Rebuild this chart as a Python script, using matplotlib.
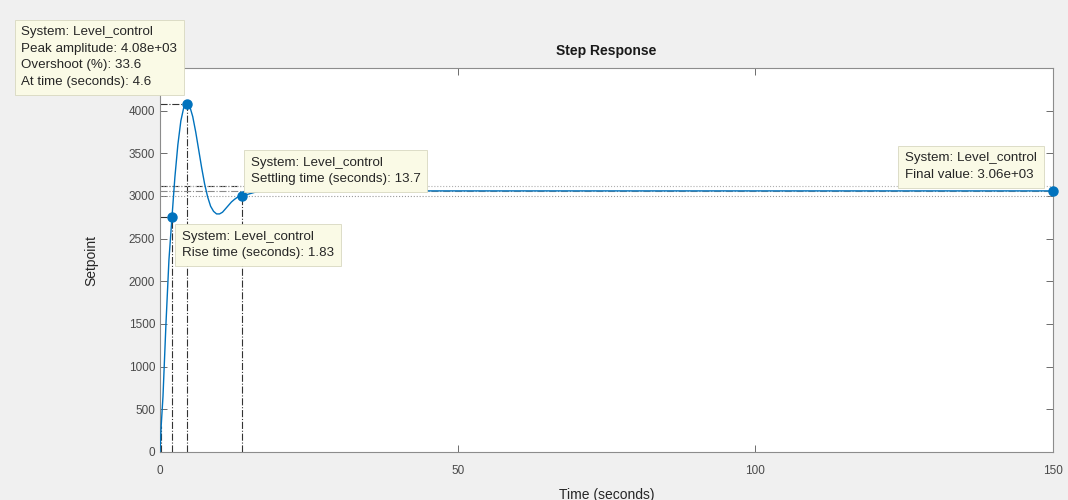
import numpy as np
import matplotlib
matplotlib.use("Agg")
import matplotlib.pyplot as plt

# step response samples
t_resp = [0, 0.2, 0.5, 1.0, 1.5, 2.0, 2.5, 3.0, 3.5, 4.0, 4.6, 5.0, 5.5, 6.0, 6.5,
          7.0, 7.5, 8.0, 8.5, 9.0, 9.5, 10.0, 10.5, 11.0, 11.5, 12.0, 12.5, 13.0,
          13.7, 14.5, 15.0, 16.0, 17.0, 18.0, 20.0, 22.0, 25.0, 30.0, 40.0, 60.0,
          100.0, 150.0]
y_resp = [0, 306, 650, 1500, 2250, 2740, 3220, 3600, 3880, 4040, 4080, 4050, 3930,
          3750, 3540, 3330, 3140, 2990, 2880, 2820, 2790, 2790, 2810, 2850, 2890,
          2930, 2960, 2985, 2999, 3015, 3025, 3045, 3058, 3066, 3070, 3066, 3062,
          3060, 3060, 3060, 3060, 3060]

# step characteristics (datatips)
sys_name = "Level_control"
peak_t, peak_y, overshoot = 4.6, 4080, 33.6
rise_time, t10, t90 = 1.83, 0.2, 2.03
final_y = 3060
rise_lo, rise_hi = 0.1 * final_y, 0.9 * final_y
settle_t, settle_y = 13.7, 2999
t_end = 150

xticks = [0, 50, 100, 150]
yticks = list(range(0, 4001, 500))

BLUE = "#0072BD"
BG = "#f0f0f0"
TIP_FACE = "#fafae6"
TIP_EDGE = "#d8d8c0"
plt.rcParams["font.family"] = ["Liberation Sans", "DejaVu Sans"]

fig = plt.figure(figsize=(10.68, 5.0), dpi=100, facecolor=BG)
ax = fig.add_axes([160 / 1068, 1 - 452 / 500, (1053 - 160) / 1068, (452 - 68) / 500])
ax.set_facecolor("white")

# reference lines (MATLAB step-characteristics style)
ref = dict(color="#333333", linestyle="-.", linewidth=0.8, zorder=2)
ax.plot([0, peak_t], [peak_y, peak_y], **ref)
ax.plot([peak_t, peak_t], [0, peak_y], **ref)
ax.plot([0, t90], [rise_hi, rise_hi], **ref)
ax.plot([t90, t90], [0, rise_hi], **ref)
ax.plot([t10, t10], [0, rise_lo], **ref)
ax.plot([settle_t, settle_t], [0, settle_y], **ref)
ax.plot([0, settle_t], [1.02 * final_y, 1.02 * final_y], **ref)
ax.plot([0, t_end], [final_y, final_y], color="#8a8a8a", linestyle="-.", linewidth=0.8, zorder=2)
ax.plot([0, t_end], [0.98 * final_y, 0.98 * final_y], color="#9a9a9a", linestyle=":", linewidth=0.8, zorder=2)
ax.plot([0, t_end], [1.02 * final_y, 1.02 * final_y], color="#b0b0b0", linestyle=":", linewidth=0.8, zorder=2)

ax.plot(t_resp, y_resp, color=BLUE, linewidth=1.0, zorder=3)

# datatip markers
pts_t = [peak_t, t90, settle_t, t_end]
pts_y = [peak_y, rise_hi, settle_y, final_y]
ax.plot(pts_t, pts_y, "o", color=BLUE, markersize=6.5, zorder=5, clip_on=False)

tip_box = dict(boxstyle="square,pad=0.5", facecolor=TIP_FACE, edgecolor=TIP_EDGE, linewidth=0.6)
tip_kw = dict(textcoords="offset pixels", fontsize=9.6, color="#262626", linespacing=1.5,
              multialignment="left", bbox=tip_box, zorder=10, annotation_clip=False)

ax.annotate(f"System: {sys_name}\nPeak amplitude: {peak_y / 1000:.2f}e+03\n"
            f"Overshoot (%): {overshoot}\nAt time (seconds): {peak_t}",
            xy=(peak_t, peak_y), xytext=(-10, 16), ha="right", va="bottom", **tip_kw)
ax.annotate(f"System: {sys_name}\nSettling time (seconds): {settle_t}",
            xy=(settle_t, settle_y), xytext=(9, 11), ha="left", va="bottom", **tip_kw)
ax.annotate(f"System: {sys_name}\nRise time (seconds): {rise_time}",
            xy=(t90, rise_hi), xytext=(10, -14), ha="left", va="top", **tip_kw)
ax.annotate(f"System: {sys_name}\nFinal value: {final_y / 1000:.2f}e+03",
            xy=(t_end, final_y), xytext=(-16, 10), ha="right", va="bottom", **tip_kw)

ax.set_xlim(0, t_end)
ax.set_ylim(0, 4500)
ax.set_xticks(xticks)
ax.set_yticks(yticks)
ax.tick_params(direction="in", length=5, width=0.6, colors="#555555", labelsize=8.5,
               top=True, right=True, labelcolor="#4a4a4a")
ax.tick_params(axis="x", pad=9)
for s in ax.spines.values():
    s.set_color("#8c8c8c")
    s.set_linewidth(0.8)

ax.set_title("Step Response", fontsize=10, fontweight="bold", color="#1a1a1a", pad=9)
ax.set_xlabel("Time (seconds)", fontsize=10, color="#262626", labelpad=8)
ax.set_ylabel("Setpoint", fontsize=10, color="#262626", labelpad=22)

fig.savefig("out.png", dpi=100, facecolor=BG)
